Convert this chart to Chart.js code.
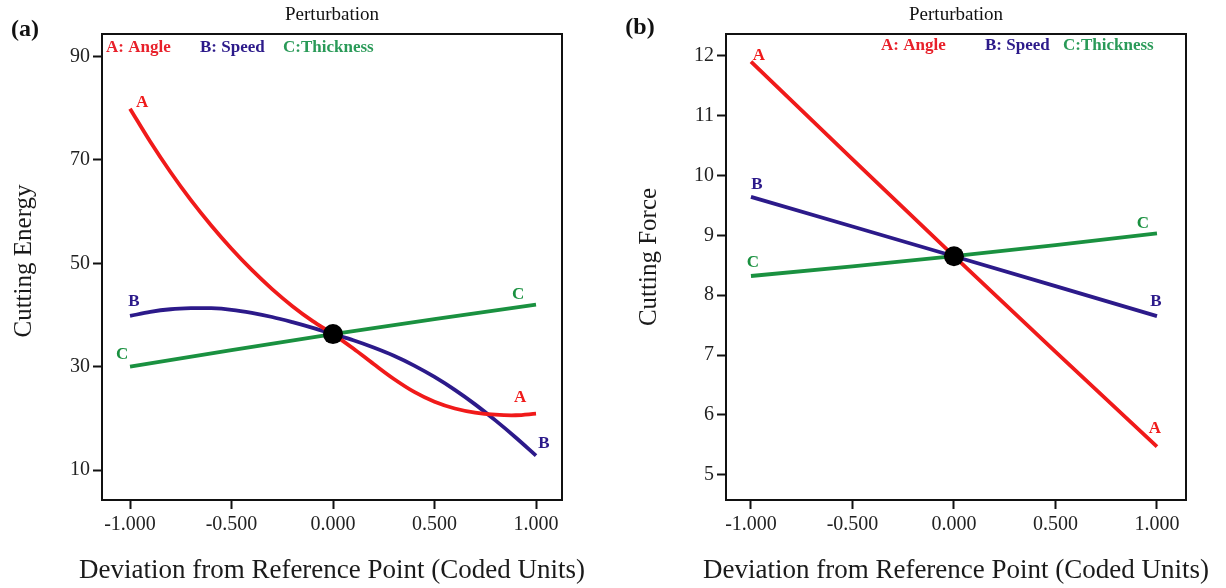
<!DOCTYPE html>
<html><head><meta charset="utf-8">
<script src="https://cdn.jsdelivr.net/npm/chart.js@4.4.0/dist/chart.umd.min.js"></script>
<style>
html,body{margin:0;padding:0;background:#fff;}
#wrap{position:relative;width:1226px;height:588px;overflow:hidden;background:#fff;}
canvas{position:absolute;top:0;}
#c1{left:0;} #c2{left:613px;}
</style></head><body>
<div id="wrap"><canvas id="c1" width="613" height="588"></canvas><canvas id="c2" width="613" height="588"></canvas></div>
<script>
// ---------- DATA ----------
const xTickValues = [-1, -0.5, 0, 0.5, 1];
const xTickLabels = ['-1.000', '-0.500', '0.000', '0.500', '1.000'];

// (a) Cutting Energy
const energyX = [-1, -0.9, -0.8, -0.7, -0.6, -0.5, -0.4, -0.3, -0.2, -0.1, 0, 0.1, 0.2, 0.3, 0.4, 0.5, 0.6, 0.7, 0.8, 0.9, 1];
const energyAngle = [79.9, 73.5, 67.6, 62.2, 57.3, 52.8, 48.7, 45.0, 41.7, 38.8, 36.3, 33.5, 30.5, 27.6, 25.1, 23.2, 21.9, 21.1, 20.7, 20.6, 20.9];
const energySpeed = [39.8, 40.6, 41.1, 41.3, 41.3, 41.0, 40.4, 39.6, 38.6, 37.5, 36.3, 35.1, 33.7, 32.1, 30.2, 28.0, 25.5, 22.7, 19.6, 16.3, 12.8];
const energyThicknessX = [-1, 0, 1];
const energyThickness = [30.0, 36.3, 42.0];
const energyRef = [0, 36.3];
const energyYTicks = [10, 30, 50, 70, 90];

// (b) Cutting Force
const forceX = [-1, 0, 1];
const forceAngle = [11.9, 8.65, 5.47];
const forceSpeed = [9.64, 8.65, 7.65];
const forceThickness = [8.32, 8.65, 9.03];
const forceRef = [0, 8.65];
const forceYTicks = [5, 6, 7, 8, 9, 10, 11, 12];

const factorNames = ['A: Angle', 'B: Speed', 'C:Thickness'];
const factorLetters = ['A', 'B', 'C'];
const colors = ['#f01a1a', '#2c1a8a', '#1a9140'];
const legendColors = ['#e8202a', '#2c1a8a', '#2a9a58'];

// ---------- HELPERS ----------
const SERIF = '"Liberation Serif", "DejaVu Serif", serif';
function pts(xs, ys) { return xs.map((x, i) => ({ x: x, y: ys[i] })); }

const annotPlugin = {
  id: 'annot',
  afterDraw(chart, args, o) {
    const ctx = chart.ctx, a = chart.chartArea;
    const xs = chart.scales.x, ys = chart.scales.y;
    ctx.save();
    ctx.strokeStyle = '#111'; ctx.lineWidth = 2;
    ctx.strokeRect(a.left, a.top, a.right - a.left, a.bottom - a.top);
    ctx.fillStyle = '#111';
    ctx.font = 'bold 24px ' + SERIF;
    ctx.textAlign = 'center'; ctx.textBaseline = 'middle';
    ctx.fillText(o.panel, o.panelX, o.panelY);
    ctx.font = '19px ' + SERIF;
    ctx.fillText('Perturbation', (a.left + a.right) / 2, 15);
    ctx.font = 'bold 17px ' + SERIF;
    ctx.textAlign = 'left';
    o.legendX.forEach((lx, i) => {
      ctx.fillStyle = legendColors[i];
      ctx.fillText(factorNames[i], lx, o.legendY);
    });
    ctx.font = 'bold 17px ' + SERIF;
    ctx.textAlign = 'center';
    o.endLabels.forEach(l => {
      const ds = chart.data.datasets[l.ds];
      const p = l.end ? ds.data[ds.data.length - 1] : ds.data[0];
      ctx.fillStyle = colors[l.ds];
      ctx.fillText(factorLetters[l.ds], xs.getPixelForValue(p.x) + l.dx, ys.getPixelForValue(p.y) + l.dy);
    });
    ctx.fillStyle = '#1a1a1a';
    ctx.font = '27px ' + SERIF;
    ctx.textAlign = 'center';
    ctx.fillText('Deviation from Reference Point (Coded Units)', (a.left + a.right) / 2, 571);
    ctx.font = '25px ' + SERIF;
    ctx.translate(o.yTitleX, o.yTitleY);
    ctx.rotate(-Math.PI / 2);
    ctx.fillText(o.yTitle, 0, 0);
    ctx.restore();
  }
};

function makeChart(id, cfg) {
  const ds = [
    { data: pts(cfg.xA, cfg.A), borderColor: colors[0] },
    { data: pts(cfg.xB, cfg.B), borderColor: colors[1] },
    { data: pts(cfg.xC, cfg.C), borderColor: colors[2] }
  ].map(d => Object.assign(d, {
    borderWidth: 3.8, pointRadius: 0, fill: false, order: 1,
    tension: 0.35, borderCapStyle: 'butt'
  }));
  ds.push({ data: [{ x: cfg.ref[0], y: cfg.ref[1] }], showLine: false, pointRadius: 10,
            pointBackgroundColor: '#000', pointBorderColor: '#000', pointBorderWidth: 0, order: 0 });
  return new Chart(document.getElementById(id), {
    type: 'line',
    data: { datasets: ds },
    options: {
      responsive: false, animation: false, devicePixelRatio: 1,
      layout: { padding: { left: 0, top: cfg.top, right: cfg.padRight, bottom: 0 } },
      plugins: { legend: { display: false }, tooltip: { enabled: false }, annot: cfg.annot },
      scales: {
        x: {
          type: 'linear', min: cfg.xMin, max: cfg.xMax,
          afterBuildTicks: s => { s.ticks = xTickValues.map(v => ({ value: v })); },
          afterFit: s => { s.height = 88; },
          ticks: { callback: (v, i) => xTickLabels[i], font: { family: SERIF, size: 20 }, color: '#222', padding: 4, maxRotation: 0, autoSkip: false },
          grid: { display: true, drawOnChartArea: false, drawTicks: true, tickLength: 9, tickColor: '#111', tickWidth: 2 },
          border: { display: true, color: '#111', width: 2 }
        },
        y: {
          type: 'linear', min: cfg.yMin, max: cfg.yMax,
          afterBuildTicks: s => { s.ticks = cfg.yTicks.map(v => ({ value: v })); },
          afterFit: s => { s.width = cfg.yWidth; },
          ticks: { font: { family: SERIF, size: 20 }, color: '#222', padding: 3, autoSkip: false },
          grid: { display: true, drawOnChartArea: false, drawTicks: true, tickLength: 9, tickColor: '#111', tickWidth: 2 },
          border: { display: true, color: '#111', width: 2 }
        }
      }
    },
    plugins: [annotPlugin]
  });
}

makeChart('c1', {
  xA: energyX, A: energyAngle, xB: energyX, B: energySpeed, xC: energyThicknessX, C: energyThickness,
  ref: energyRef, yTicks: energyYTicks,
  xMin: -1.138, xMax: 1.128, yMin: 4.2, yMax: 94.35,
  top: 34, padRight: 51, yWidth: 102,
  annot: {
    panel: '(a)', panelX: 25, panelY: 30,
    legendX: [106, 200, 283], legendY: 48,
    yTitle: 'Cutting Energy', yTitleX: 24, yTitleY: 261,
    endLabels: [
      { ds: 0, end: false, dx: 12, dy: -6 }, { ds: 1, end: false, dx: 4, dy: -14 }, { ds: 2, end: false, dx: -8, dy: -12 },
      { ds: 2, end: true, dx: -18, dy: -10 }, { ds: 0, end: true, dx: -16, dy: -16 }, { ds: 1, end: true, dx: 8, dy: -12 }
    ]
  }
});

makeChart('c2', {
  xA: forceX, A: forceAngle, xB: forceX, B: forceSpeed, xC: forceX, C: forceThickness,
  ref: forceRef, yTicks: forceYTicks,
  xMin: -1.123, xMax: 1.143, yMin: 4.58, yMax: 12.36,
  top: 34, padRight: 40, yWidth: 113,
  annot: {
    panel: '(b)', panelX: 27, panelY: 28,
    legendX: [268, 372, 450], legendY: 46,
    yTitle: 'Cutting Force', yTitleX: 36, yTitleY: 257,
    endLabels: [
      { ds: 0, end: false, dx: 8, dy: -6 }, { ds: 1, end: false, dx: 6, dy: -12 }, { ds: 2, end: false, dx: 2, dy: -13 },
      { ds: 2, end: true, dx: -14, dy: -10 }, { ds: 1, end: true, dx: -1, dy: -15 }, { ds: 0, end: true, dx: -2, dy: -18 }
    ]
  }
});
</script>
</body></html>
